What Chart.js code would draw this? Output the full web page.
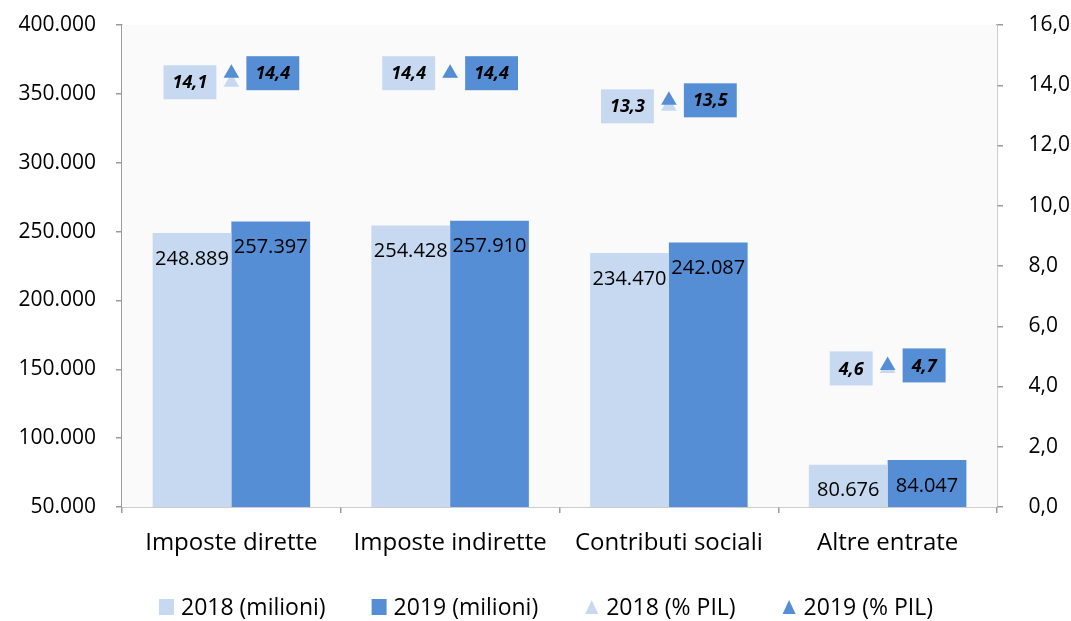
<!DOCTYPE html>
<html>
<head>
<meta charset="utf-8">
<script src="https://cdn.jsdelivr.net/npm/chart.js@4.4.0/dist/chart.umd.min.js"></script>
<style>
  html, body { margin: 0; padding: 0; background: #fff; }
</style>
</head>
<body>
<canvas id="chart" width="1071" height="621"></canvas>
<script>
// dati
const categories = ['Imposte dirette', 'Imposte indirette', 'Contributi sociali', 'Altre entrate'];
const milioni2018 = [248889, 254428, 234470, 80676];
const milioni2019 = [257397, 257910, 242087, 84047];
const pil2018 = [14.1, 14.4, 13.3, 4.6];
const pil2019 = [14.4, 14.4, 13.5, 4.7];
const leftTicks = [50000, 100000, 150000, 200000, 250000, 300000, 350000, 400000];
const rightTicks = [0, 2, 4, 6, 8, 10, 12, 14, 16];
const legendNames = ['2018 (milioni)', '2019 (milioni)', '2018 (% PIL)', '2019 (% PIL)'];

const LIGHT = '#C6D9F1';
const DARK = '#558ED5';
const AXIS = '#9B9B9B';
const FONT = '"Open Sans", Lato, sans-serif';
const BOTTOM_PAD = 44; // spazio per la legenda

const fmtThousands = v => String(v).replace(/\B(?=(\d{3})+(?!\d))/g, '.');
const fmtDecimal = v => v.toFixed(1).replace('.', ',');

// sfondo area del grafico + etichette dei valori + legenda
const labelPlugin = {
  id: 'valueLabels',
  beforeDatasetsDraw(chart) {
    const { ctx, chartArea: a } = chart;
    ctx.save();
    ctx.fillStyle = '#FAFAFA';
    ctx.fillRect(a.left, a.top, a.right - a.left, a.bottom - a.top);
    ctx.restore();
  },
  afterDatasetsDraw(chart) {
    const ctx = chart.ctx;
    ctx.save();
    ctx.textAlign = 'center';
    ctx.textBaseline = 'middle';
    ctx.fillStyle = '#000';

    // etichette barre
    ctx.font = '20px ' + FONT;
    [0, 1].forEach(di => {
      const meta = chart.getDatasetMeta(di);
      meta.data.forEach((bar, i) => {
        const v = chart.data.datasets[di].data[i];
        const y = Math.min(bar.y + 25, (bar.y + bar.base) / 2 - 2);
        ctx.fillText(fmtThousands(v), bar.x, y + 1);
      });
    });

    // etichette % PIL in riquadri
    ctx.font = 'italic bold 18px ' + FONT;
    [2, 3].forEach(di => {
      const meta = chart.getDatasetMeta(di);
      const side = di === 2 ? -1 : 1;
      const fill = di === 2 ? LIGHT : DARK;
      meta.data.forEach((pt, i) => {
        const txt = fmtDecimal(chart.data.datasets[di].data[i]);
        const w = ctx.measureText(txt).width + 18;
        const h = 34;
        const cx = pt.x + side * (w / 2 + 15);
        ctx.fillStyle = fill;
        ctx.fillRect(cx - w / 2, pt.y - h / 2, w, h);
        ctx.fillStyle = '#000';
        ctx.fillText(txt, cx, pt.y + 1);
      });
    });
    ctx.restore();
  },
  afterDraw(chart) {
    const ctx = chart.ctx;
    const colors = [LIGHT, DARK, LIGHT, DARK];
    const shapes = ['rect', 'rect', 'tri', 'tri'];
    const iconW = 15, gap = 7, itemGap = 46;
    const y = 607;
    ctx.save();
    ctx.font = '23px ' + FONT;
    ctx.textBaseline = 'middle';
    ctx.textAlign = 'left';
    const widths = legendNames.map(t => ctx.measureText(t).width);
    const total = widths.reduce((s, w) => s + iconW + gap + w, 0) + itemGap * (legendNames.length - 1);
    let x = 546 - total / 2;
    legendNames.forEach((name, i) => {
      ctx.fillStyle = colors[i];
      if (shapes[i] === 'rect') {
        ctx.fillRect(x, y - 8, iconW, 16);
      } else {
        ctx.beginPath();
        ctx.moveTo(x + iconW / 2, y - 7);
        ctx.lineTo(x + iconW - 1, y + 7);
        ctx.lineTo(x + 1, y + 7);
        ctx.closePath();
        ctx.fill();
      }
      ctx.fillStyle = '#000';
      ctx.fillText(name, x + iconW + gap, y + 1);
      x += iconW + gap + widths[i] + itemGap;
    });
    ctx.restore();
  }
};

const ctx = document.getElementById('chart').getContext('2d');
new Chart(ctx, {
  data: {
    labels: categories,
    datasets: [
      { type: 'bar', label: legendNames[0], data: milioni2018, backgroundColor: LIGHT, yAxisID: 'y', order: 3 },
      { type: 'bar', label: legendNames[1], data: milioni2019, backgroundColor: DARK, yAxisID: 'y', order: 4 },
      { type: 'line', label: legendNames[2], data: pil2018, yAxisID: 'y1', showLine: false, order: 2,
        pointStyle: 'triangle', pointRadius: 9, backgroundColor: LIGHT, borderColor: LIGHT, borderWidth: 0 },
      { type: 'line', label: legendNames[3], data: pil2019, yAxisID: 'y1', showLine: false, order: 1,
        pointStyle: 'triangle', pointRadius: 9, backgroundColor: DARK, borderColor: DARK, borderWidth: 0 }
    ]
  },
  options: {
    responsive: false,
    animation: false,
    datasets: { bar: { categoryPercentage: 0.72, barPercentage: 1.0 } },
    layout: { padding: { top: 25, left: 0, right: 0, bottom: BOTTOM_PAD } },
    plugins: {
      tooltip: { enabled: false },
      legend: { display: false }
    },
    scales: {
      x: {
        grid: { drawOnChartArea: false, color: AXIS, tickLength: 6, lineWidth: 1.5 },
        border: { color: AXIS, width: 1.5 },
        ticks: { color: '#000', font: { family: FONT, size: 24 }, padding: 16, maxRotation: 0 },
        afterFit: s => { s.height = 621 - 507 - BOTTOM_PAD; s.paddingLeft = 0; s.paddingRight = 0; }
      },
      y: {
        position: 'left',
        min: 50000, max: 400000,
        afterBuildTicks: s => { s.ticks = leftTicks.map(v => ({ value: v })); },
        grid: { drawOnChartArea: false, color: AXIS, tickLength: 6, lineWidth: 1.5 },
        border: { color: AXIS, width: 1.5 },
        ticks: { color: '#000', font: { family: FONT, size: 21 }, padding: 20, callback: v => fmtThousands(v) },
        afterFit: s => { s.width = 122; s.paddingTop = 0; s.paddingBottom = 0; }
      },
      y1: {
        position: 'right',
        min: 0, max: 16,
        afterBuildTicks: s => { s.ticks = rightTicks.map(v => ({ value: v })); },
        grid: { drawOnChartArea: false, color: AXIS, tickLength: 6, lineWidth: 1.5 },
        border: { color: AXIS, width: 1.5 },
        ticks: { color: '#000', font: { family: FONT, size: 21 }, padding: 25.5, callback: v => fmtDecimal(v) },
        afterFit: s => { s.width = 74; s.paddingTop = 0; s.paddingBottom = 0; }
      }
    }
  },
  plugins: [labelPlugin]
});
</script>
</body>
</html>
